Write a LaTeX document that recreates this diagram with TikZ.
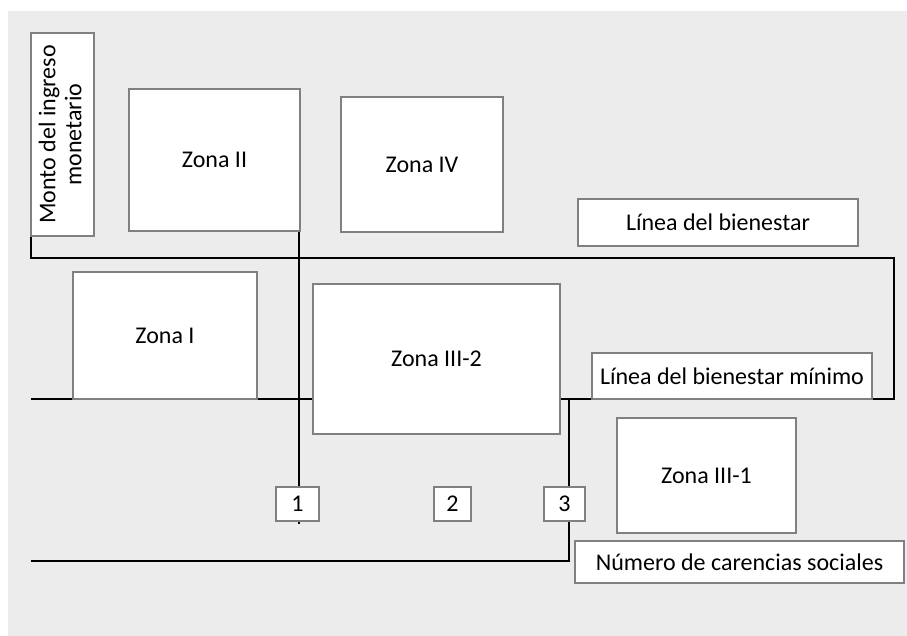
\documentclass[tikz,border=0pt]{standalone}
\usepackage{fontspec}
\setmainfont{Carlito}
\pgfdeclarelayer{back}
\pgfdeclarelayer{lines}
\pgfsetlayers{back,lines,main}
\definecolor{bggray}{HTML}{ECECEC}
\definecolor{boxgray}{HTML}{808080}
\begin{document}
\begin{tikzpicture}[x=1pt,y=-1pt,
  box/.style={draw=boxgray,line width=2.5pt,fill=white,inner sep=0pt,outer sep=0pt,
    minimum width=#1,font=\fontsize{24}{29}\selectfont,text=black},
  conn/.style={draw=black,line width=2.5pt}]
\useasboundingbox (0,0) rectangle (907,636);
\begin{pgfonlayer}{back}
\fill[bggray] (8,11) rectangle (907,636);
\end{pgfonlayer}
% nodes
\node[box=63pt,minimum height=203pt] (monto) at (62.5,134.5)
  {\rotatebox{90}{\begin{tabular}{@{}c@{}}Monto del ingreso\\[-3pt]monetario\end{tabular}}};
\node[box=171pt,minimum height=142pt] (z2) at (214.5,160) {Zona II};
\node[box=162pt,minimum height=135pt] (z4) at (422,164.5) {Zona IV};
\node[box=280pt,minimum height=47pt] (lb) at (718,222.5) {Línea del bienestar};
\node[box=184pt,minimum height=127pt] (z1) at (165,335.5) {Zona I};
\node[box=247pt,minimum height=150pt] (z32) at (436.5,359) {Zona III-2};
\node[box=280pt,minimum height=46pt] (lbm) at (732,376) {Línea del bienestar mínimo};
\node[box=179pt,minimum height=115pt] (z31) at (706.5,475.5) {Zona III-1};
\node[box=43pt,minimum height=34pt] (b1) at (297.5,504) {1};
\node[box=37pt,minimum height=34pt] (b2) at (452.5,504) {2};
\node[box=41pt,minimum height=34pt] (b3) at (564.5,504) {3};
\node[box=329pt,minimum height=42pt] (nc) at (739.5,562) {Número de carencias sociales};
% coordinates
\coordinate (tr) at (894,258);
\coordinate (l0) at (31,399);
\coordinate (v1) at (299,231);
\coordinate (v1b) at (299,524);
\coordinate (v3) at (569,399);
\coordinate (b0) at (31,561);
\begin{pgfonlayer}{lines}
\draw[conn] (monto.south west) |- (tr) |- (lbm.south east);
\draw[conn] (v1) -- (v1b);
\draw[conn] (l0) -- (l0 -| z1.west);
\draw[conn] (l0 -| z1.east) -- (l0 -| z32.west);
\draw[conn] (l0 -| z32.east) -- (l0 -| lbm.west);
\draw[conn] (v3) |- (b0);
\end{pgfonlayer}
\end{tikzpicture}
\end{document}
